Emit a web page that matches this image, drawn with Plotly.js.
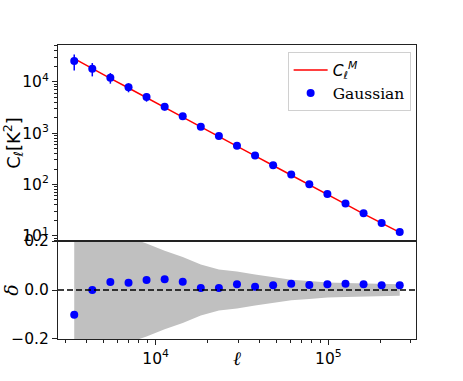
<!DOCTYPE html>
<html>
<head>
<meta charset="utf-8">
<script src="https://cdn.plot.ly/plotly-3.0.1.min.js"></script>
<style>
  html, body { margin: 0; padding: 0; background: #fff; }
  #chart { width: 463px; height: 381px; }
</style>
</head>
<body>
<div id="chart"></div>
<script>
// multipole bins (log spaced)
const ell = [3380, 4300, 5470, 6970, 8860, 11280, 14350, 18260, 23240, 29570,
             37630, 47880, 60930, 77540, 98670, 125600, 159800, 203300, 258700];

// model spectrum C_l^M [K^2]
const clModel = [28100, 17900, 11600, 7550, 4840, 3120, 2050, 1320, 868, 556,
                 362, 234, 153, 99, 64.4, 41.5, 26.9, 17.5, 11.7];

// Gaussian measurement and its error
const clGauss = [25300, 17900, 11970, 7780, 5040, 3260, 2120, 1330, 875, 570,
                 367, 238, 157, 101, 65.6, 42.6, 27.6, 17.8, 11.9];
const clErr   = [8700, 5200, 2800, 1550, 950, 500, 280, 140, 75, 42,
                 23, 12, 6.4, 3.7, 2.0, 1.3, 0.7, 0.4, 0.27];

// fractional deviation and 1-sigma band
const delta = [-0.101, 0.0, 0.033, 0.030, 0.041, 0.044, 0.034, 0.008, 0.008, 0.024,
               0.013, 0.019, 0.026, 0.020, 0.024, 0.026, 0.023, 0.019, 0.019];
const sigma = [0.31, 0.29, 0.23, 0.215, 0.19, 0.16, 0.135, 0.104, 0.084, 0.076,
               0.063, 0.053, 0.042, 0.037, 0.031, 0.029, 0.027, 0.024, 0.023];

const clTicks = [1e1, 1e2, 1e3, 1e4];
const clTickText = ['10<sup>1</sup>', '10<sup>2</sup>', '10<sup>3</sup>', '10<sup>4</sup>'];
const ellTicks = [1e4, 1e5];
const ellTickText = ['10<sup>4</sup>', '10<sup>5</sup>'];
const deltaTicks = [-0.2, 0.0, 0.2];
const deltaTickText = ['\u22120.2', '0.0', '0.2'];

const sans = 'DejaVu Sans, sans-serif';
const serif = 'DejaVu Serif, serif';

const traces = [
  {
    name: '<i>C</i><sub><i>ℓ</i></sub><sup><i>M</i></sup>',
    legendrank: 1,
    x: ell, y: clModel,
    xaxis: 'x2', yaxis: 'y2',
    type: 'scatter', mode: 'lines',
    line: { color: 'red', width: 1.5 },
  },
  {
    name: '<span style="font-family:DejaVu Serif">Gaussian</span>',
    legendrank: 2,
    x: ell, y: clGauss,
    xaxis: 'x2', yaxis: 'y2',
    type: 'scatter', mode: 'markers',
    marker: { color: 'blue', size: 8 },
    error_y: { type: 'data', array: clErr, color: 'blue', thickness: 1.5, width: 0 },
  },
  // band lower edge
  {
    x: ell, y: sigma.map(s => -s),
    xaxis: 'x', yaxis: 'y',
    type: 'scatter', mode: 'lines',
    line: { width: 0, color: 'silver' },
    showlegend: false, hoverinfo: 'skip',
  },
  {
    x: ell, y: sigma,
    xaxis: 'x', yaxis: 'y',
    type: 'scatter', mode: 'lines',
    fill: 'tonexty', fillcolor: 'silver',
    line: { width: 0, color: 'silver' },
    showlegend: false, hoverinfo: 'skip',
  },
  {
    x: ell, y: delta,
    xaxis: 'x', yaxis: 'y',
    type: 'scatter', mode: 'markers',
    marker: { color: 'blue', size: 8 },
    showlegend: false,
  },
];

const frame = { showline: true, linecolor: '#222', linewidth: 1, mirror: true,
                showgrid: false, zeroline: false };
const minorTicks = { dtick: 'D1', ticks: 'outside', ticklen: 3, tickcolor: '#222', showgrid: false };

const layout = {
  width: 463, height: 381,
  margin: { t: 45, r: 47, b: 42, l: 58 },
  paper_bgcolor: '#fff', plot_bgcolor: '#fff',
  font: { family: sans, size: 15.5, color: '#000' },
  showlegend: true,
  legend: {
    x: 0.985, y: 0.975, xanchor: 'right', yanchor: 'top',
    bgcolor: '#fff', bordercolor: '#d0d0d0', borderwidth: 1,
    font: { family: sans, size: 15.5 },
    traceorder: 'normal', itemwidth: 34,
  },
  xaxis: Object.assign({}, frame, {
    type: 'log', range: [3.435, 5.507], anchor: 'y',
    tickmode: 'array', tickvals: ellTicks, ticktext: ellTickText,
    ticks: 'outside', ticklen: 5, tickcolor: '#222',
    minor: minorTicks,
  }),
  xaxis2: Object.assign({}, frame, {
    type: 'log', range: [3.435, 5.507], anchor: 'y2', matches: 'x',
    showticklabels: false, ticks: '',
  }),
  yaxis: Object.assign({}, frame, {
    domain: [0, 0.3333], range: [-0.2, 0.2], anchor: 'x',
    tickmode: 'array', tickvals: deltaTicks, ticktext: deltaTickText,
    ticks: 'outside', ticklen: 5, tickcolor: '#222',
    title: { text: '<i>δ</i>', font: { family: serif, size: 19 }, standoff: 4 },
  }),
  yaxis2: Object.assign({}, frame, {
    type: 'log', domain: [0.3333, 1], range: [0.9, 4.715], anchor: 'x2',
    tickmode: 'array', tickvals: clTicks, ticktext: clTickText,
    ticks: 'outside', ticklen: 5, tickcolor: '#222',
    minor: minorTicks,
    title: { text: 'C<sub><i>ℓ</i></sub>[K<sup>2</sup>]', font: { family: sans, size: 18 }, standoff: 2 },
  }),
  annotations: [
    {
      text: '<i>ℓ</i>', xref: 'paper', yref: 'paper',
      x: 0.5, y: -0.065, xanchor: 'center', yanchor: 'middle',
      showarrow: false, font: { family: serif, size: 19 },
    },
  ],
  shapes: [
    {
      type: 'line', xref: 'x domain', yref: 'y',
      x0: 0, x1: 1, y0: 0, y1: 0,
      line: { color: '#000', width: 1.5, dash: '6px,3px' },
    },
  ],
};

Plotly.newPlot('chart', traces, layout, { displayModeBar: false, staticPlot: true });
</script>
</body>
</html>
